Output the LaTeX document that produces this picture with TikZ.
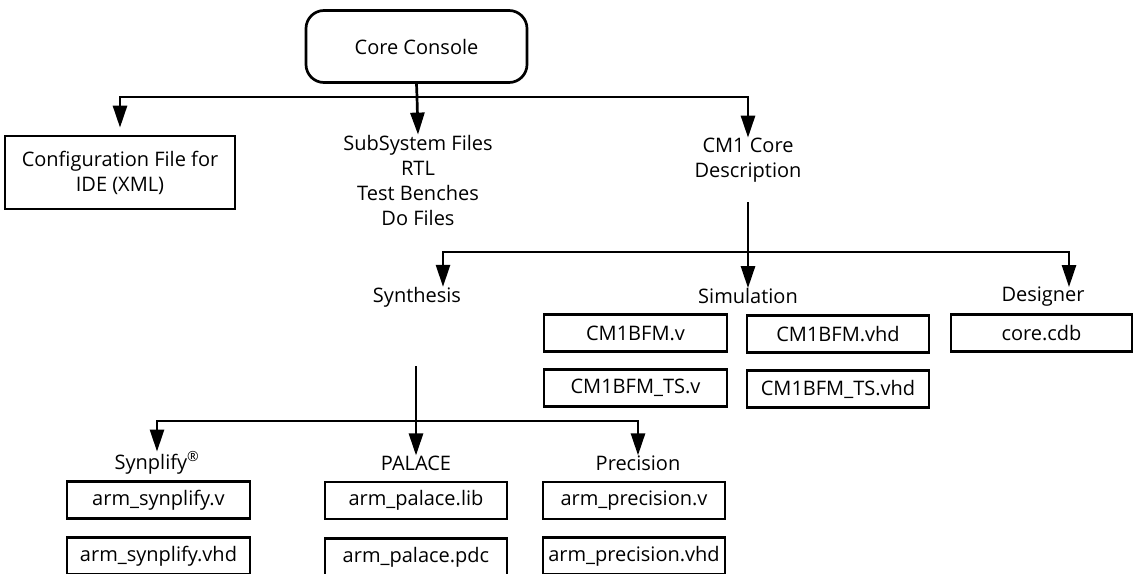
\documentclass[tikz,border=0pt]{standalone}
\usepackage{fontspec}
\setmainfont{Open Sans}
\usetikzlibrary{arrows.meta}
\begin{document}
\begin{tikzpicture}[x=1pt,y=-1pt,
 every node/.style={font=\fontsize{20pt}{25pt}\selectfont},
 filebox/.style={draw, line width=2.7pt, inner sep=0pt, minimum height=37pt},
 lbl/.style={align=center, inner sep=0pt},
 conn/.style={line width=2.7pt},
 arr/.style={conn, -{Triangle[length=22pt,width=14pt]}}
]
\useasboundingbox (0,0) rectangle (1134,573);
\node[draw, line width=2.7pt, rounded corners=18pt, minimum width=221pt, minimum height=72pt] (console) at (416.5,46.5) {Core Console};
\node[filebox, minimum width=230pt, minimum height=73pt, align=center] (config) at (120,172.5) {Configuration File for\\IDE (XML)};
\node[lbl] (subsys) at (418,180) {SubSystem Files\\RTL\\Test Benches\\Do Files};
\node[lbl] (cm1) at (748,160) {CM1 Core\\Description};
\node[lbl] (synth) at (417,297) {Synthesis};
\node[lbl] (sim) at (748,296) {Simulation};
\node[lbl] (designer) at (1043,297) {Designer};
\node[filebox, minimum width=183pt] (bfmv) at (635.5,333) {CM1BFM.v};
\node[filebox, minimum width=182pt] (bfmvhd) at (838,334) {CM1BFM.vhd};
\node[filebox, minimum width=181pt] (cdb) at (1041.5,333) {core.cdb};
\node[filebox, minimum width=183pt] (tsv) at (635.5,388) {CM1BFM\_TS.v};
\node[filebox, minimum width=182pt] (tsvhd) at (838,389) {CM1BFM\_TS.vhd};
\node[lbl] (synp) at (157,463) {Synplify\textsuperscript{®}};
\node[lbl] (palace) at (416,463) {PALACE};
\node[lbl] (prec) at (638,463) {Precision};
\node[filebox, minimum width=183pt] (synpv) at (158.5,500) {arm\_synplify.v};
\node[filebox, minimum width=183pt] (synpvhd) at (158.5,556) {arm\_synplify.vhd};
\node[filebox, minimum width=182pt] (palib) at (416,500.5) {arm\_palace.lib};
\node[filebox, minimum width=182pt] (papdc) at (416,557) {arm\_palace.pdc};
\node[filebox, minimum width=182pt] (precv) at (634,500.5) {arm\_precision.v};
\node[filebox, minimum width=182pt] (precvhd) at (634,556) {arm\_precision.vhd};
\coordinate (j1) at (417,97);
\draw[conn] (console.south) -- (j1);
\draw[arr, shorten >=7pt] (j1) -| (config.north);
\draw[arr] (j1) -- (subsys.north);
\draw[arr] (j1) -| (cm1.north);
\coordinate (s1) at (748,202);
\coordinate (j2) at (748,252);
\draw[arr] (s1) -- (sim.north);
\draw[arr] (j2) -| ([xshift=26pt]synth.north);
\draw[arr] (j2) -| ([xshift=26pt]designer.north);
\coordinate (s2) at (416,366);
\coordinate (j3) at (416,421);
\draw[arr] (s2) -- (palace.north);
\draw[arr] (j3) -| (synp.north);
\draw[arr] (j3) -| (prec.north);
\end{tikzpicture}
\end{document}
